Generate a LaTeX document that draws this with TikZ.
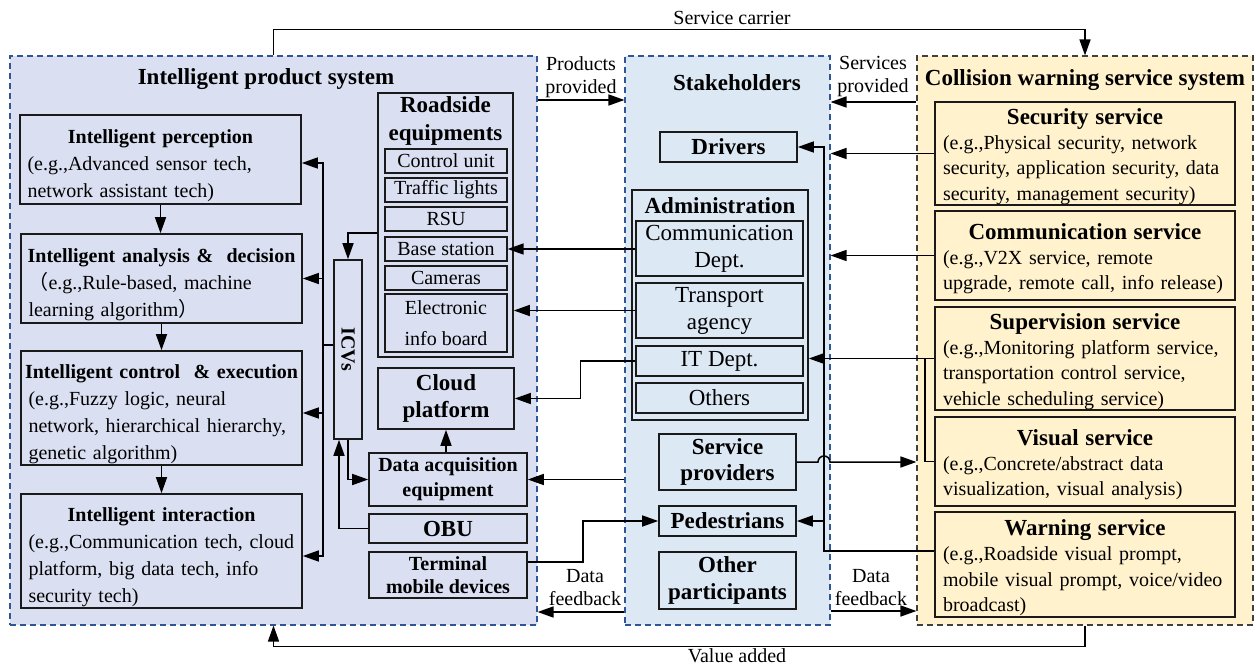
\documentclass[tikz,border=0pt]{standalone}
\usepackage{fontspec}
\setmainfont{Liberation Serif}
\newfontfamily\cjk{Noto Sans CJK SC}
\usetikzlibrary{arrows.meta,calc}
\definecolor{lpfill}{HTML}{DAE0F2}
\definecolor{spfill}{HTML}{DDE8F5}
\definecolor{rpfill}{HTML}{FFF2CC}
\definecolor{bluedash}{HTML}{2F5597}
\definecolor{greydash}{HTML}{404040}
\definecolor{boxline}{HTML}{1A1A1A}
\newcommand\fsA{\fontsize{20}{27}\selectfont}
\newcommand\fsB{\fontsize{23}{27}\selectfont}
\newcommand\fsC{\fontsize{20}{25.3}\selectfont}
\newcommand\fsL{\fontsize{20}{23}\selectfont}
\newcommand\ttA[1]{\makebox[\linewidth]{\rule{0pt}{27pt}\bfseries #1}}
\newcommand\ttC[1]{\makebox[\linewidth]{\rule{0pt}{22pt}\fsB\bfseries #1}}
\begin{document}
\begin{tikzpicture}[x=1pt,y=-1pt,line width=1.5pt,
  panel/.style={dash pattern=on 6pt off 4pt, line width=1.1pt, inner sep=0pt},
  bx/.style={draw=boxline, line width=1.6pt, inner sep=0pt, align=center},
  lbx/.style={bx, text width=266pt, align=left, font=\fsA, minimum width=281pt},
  sbx/.style={bx, minimum width=122pt, font=\fsA, line width=1.3pt},
  abx/.style={bx, minimum width=167pt, font=\fsB, line width=1.3pt},
  stk/.style={bx, minimum width=137pt, font=\fsB\bfseries},
  rbx/.style={bx, text width=284pt, align=left, font=\fsC, minimum width=300pt},
  lbl/.style={font=\fsL, align=center, inner sep=0pt},
  ttl/.style={font=\fsB\bfseries, inner sep=0pt, align=center},
  arr/.style={-{Triangle[length=16pt,width=11pt]}}]
\useasboundingbox (0,0) rectangle (1257,666);

% panels
\node[panel, fill=lpfill, draw=bluedash, minimum width=527pt, minimum height=569pt] (lp) at (273.5,340.5) {};
\node[panel, fill=spfill, draw=bluedash, minimum width=205pt, minimum height=569pt] (sp) at (727.5,340.5) {};
\node[panel, fill=rpfill, draw=greydash, minimum width=336pt, minimum height=569pt] (rp) at (1085,340.5) {};

\node[ttl] (lpt) at (266,79) {Intelligent product system};
\node[ttl] (spt) at (737,83) {Stakeholders};
\node[ttl] (rpt) at (1085,80) {Collision warning service system};

% left column
\node[lbx, minimum height=89pt] (perc) at (160.5,159.5) {\ttA{Intelligent perception}\\(e.g.,Advanced sensor tech,\\network assistant tech)};
\node[lbx, minimum height=89pt] (anal) at (161.5,278.5) {\ttA{Intelligent analysis \&\ \ decision}\\{\cjk （}e.g.,Rule-based, machine\\learning algorithm{\cjk ）}};
\node[lbx, minimum height=114pt] (ctrl) at (161.5,408) {\ttA{Intelligent control\ \ \& execution}\\(e.g.,Fuzzy logic, neural\\\mbox{network, hierarchical hierarchy,}\\genetic algorithm)};
\node[lbx, minimum height=114pt] (inter) at (161.5,551) {\ttA{Intelligent interaction}\\\mbox{(e.g.,Communication tech, cloud}\\platform, big data tech, info\\security tech)};

\node[bx, minimum width=28pt, minimum height=179pt, font=\fsA\bfseries] (icv) at (348,349.5) {\rotatebox{-90}{ICVs}};

% roadside
\node[bx, minimum width=135pt, minimum height=264pt] (rse) at (445.5,225) {};
\node[ttl, font=\fontsize{23}{28}\selectfont\bfseries] (rset) at (445.5,121) {Roadside\\equipments};
\node[sbx, minimum height=24pt] (cu) at (446,161) {Control unit};
\node[sbx, minimum height=24pt] (tl) at (446,190) {Traffic lights};
\node[sbx, minimum height=24pt] (rsu) at (446,219) {RSU};
\node[sbx, minimum height=24pt] (base) at (446,249) {Base station};
\node[sbx, minimum height=24pt] (cam) at (446,278) {Cameras};
\node[sbx, minimum height=58pt] (eib) at (446,323) {Electronic\\[4pt]info board};

\node[bx, minimum width=136pt, minimum height=61pt, font=\fontsize{23}{27}\selectfont\bfseries] (cloud) at (446,398.5) {Cloud\\platform};
\node[bx, minimum width=158pt, minimum height=53pt, font=\fontsize{20}{25}\selectfont\bfseries] (daq) at (448,479.5) {Data acquisition\\equipment};
\node[bx, minimum width=158pt, minimum height=29pt, font=\fsB\bfseries] (obu) at (448,528.5) {OBU};
\node[bx, minimum width=158pt, minimum height=46pt, font=\fontsize{20}{23}\selectfont\bfseries] (term) at (448,575) {Terminal\\mobile devices};

% stakeholders
\node[stk, minimum height=30pt] (drv) at (728.5,147) {Drivers};
\node[bx, minimum width=176pt, minimum height=230pt] (admin) at (720,305) {};
\node[ttl] (admint) at (720,206) {Administration};
\node[abx, minimum height=55pt] (cdept) at (719.5,248.5) {Communication\\Dept.};
\node[abx, minimum height=55pt] (tag) at (719.5,310.5) {Transport\\agency};
\node[abx, minimum height=30pt] (itd) at (719.5,361) {IT Dept.};
\node[abx, minimum height=30pt] (oth) at (719.5,398) {Others};
\node[stk, minimum height=56pt, font=\fontsize{23}{26}\selectfont\bfseries] (svp) at (727.5,462) {Service\\providers};
\node[stk, minimum height=30pt] (ped) at (727.5,521) {Pedestrians};
\node[stk, minimum height=57pt, font=\fontsize{23}{27}\selectfont\bfseries] (opart) at (727.5,580.5) {Other\\participants};

% services
\node[rbx, minimum height=103pt] (sec) at (1085,153.5) {\ttC{Security service}\\(e.g.,Physical security, network\\\mbox{security, application security, data}\\security, management security)};
\node[rbx, minimum height=89pt] (comsrv) at (1085,255.5) {\ttC{Communication service}\\(e.g.,V2X service, remote\\\mbox{upgrade, remote call, info release)}};
\node[rbx, minimum height=103pt] (sup) at (1085,358.5) {\ttC{Supervision service}\\(e.g.,Monitoring platform service,\\transportation control service,\\vehicle scheduling service)};
\node[rbx, minimum height=89pt] (vis) at (1085,461.5) {\ttC{Visual service}\\(e.g.,Concrete/abstract data\\visualization, visual analysis)};
\node[rbx, minimum height=105pt] (warn) at (1085,564.5) {\ttC{Warning service}\\(e.g.,Roadside visual prompt,\\\mbox{mobile visual prompt, voice/video}\\broadcast)};

% labels
\node[lbl] (lpp) at (581,77) {Products\\provided};
\node[lbl] (spp) at (873,77) {Services\\provided};
\node[lbl] (dfl) at (585,588) {Data\\feedback};
\node[lbl] (dfr) at (871,588) {Data\\feedback};
\node[lbl] (scar) at (732,18) {Service carrier};
\node[lbl] (vadd) at (737,656) {Value added};

% connectors left
\coordinate (bus) at (323,345);
\coordinate (vl) at (824,147);
\draw[arr] (perc.south) -- (perc.south |- anal.north);
\draw[arr] (anal.south) -- (ctrl.north);
\draw[arr] (ctrl.south) -- (inter.north);
\draw (icv.west |- bus) -- (bus);
\draw[arr] (bus) |- (perc.east |- 0,163);
\draw[arr] (bus) |- (anal.east);
\draw[arr] (bus) |- (ctrl.east |- 0,413);
\draw[arr] (bus) |- (inter.east |- 0,556);
\draw[arr] (rse.west |- 0,233) -| (icv.north);
\draw[arr] (icv.south) |- (daq.west);
\draw[arr] (obu.west) -| ([xshift=-9pt]icv.south);
\draw[arr] (daq.north -| cloud.south) -- (cloud.south);
\draw[arr] (term.east |- 0,562) -- ++(55,0) |- (ped.west);
\draw[arr] (cdept.west |- base.east) -- (base.east);
\draw[arr] (tag.west) -- (rse.east |- tag.west);
\draw[arr] (itd.west) -- ++(-55,0) |- (cloud.east);
\draw[arr] (sp.west |- daq.east) -- (daq.east);
\draw[arr] (lp.east |- 0,100) -- (sp.west |- 0,100);
\draw[arr] (sp.west |- 0,612) -- (lp.east |- 0,612);

% connectors right
\draw[arr] (rp.west |- 0,102) -- (sp.east |- 0,102);
\draw[arr] (sec.west) -- (sp.east |- sec.west);
\draw[arr] (comsrv.west) -- (sp.east |- comsrv.west);
\draw[arr] (sup.west) -- (admin.east |- sup.west);
\draw (sup.west) -- ++(-9,0) |- (vis.west);
\draw[arr] (warn.west |- 0,551) -| (vl) -- (drv.east);
\draw[arr] (ped.east -| vl) -- (ped.east);
\draw[arr] (svp.east) -- ([xshift=-6pt]svp.east -| vl) arc[start angle=180,end angle=0,radius=6pt] -- (rp.west |- svp.east);
\draw[arr] (sp.east |- 0,611) -- (rp.west |- 0,611);

% outer loops
\draw[arr] (lp.north) -- ++(0,-26) -| (rp.north);
\draw[arr] (rp.south) -- ++(0,21) -| (lp.south);
\end{tikzpicture}
\end{document}
